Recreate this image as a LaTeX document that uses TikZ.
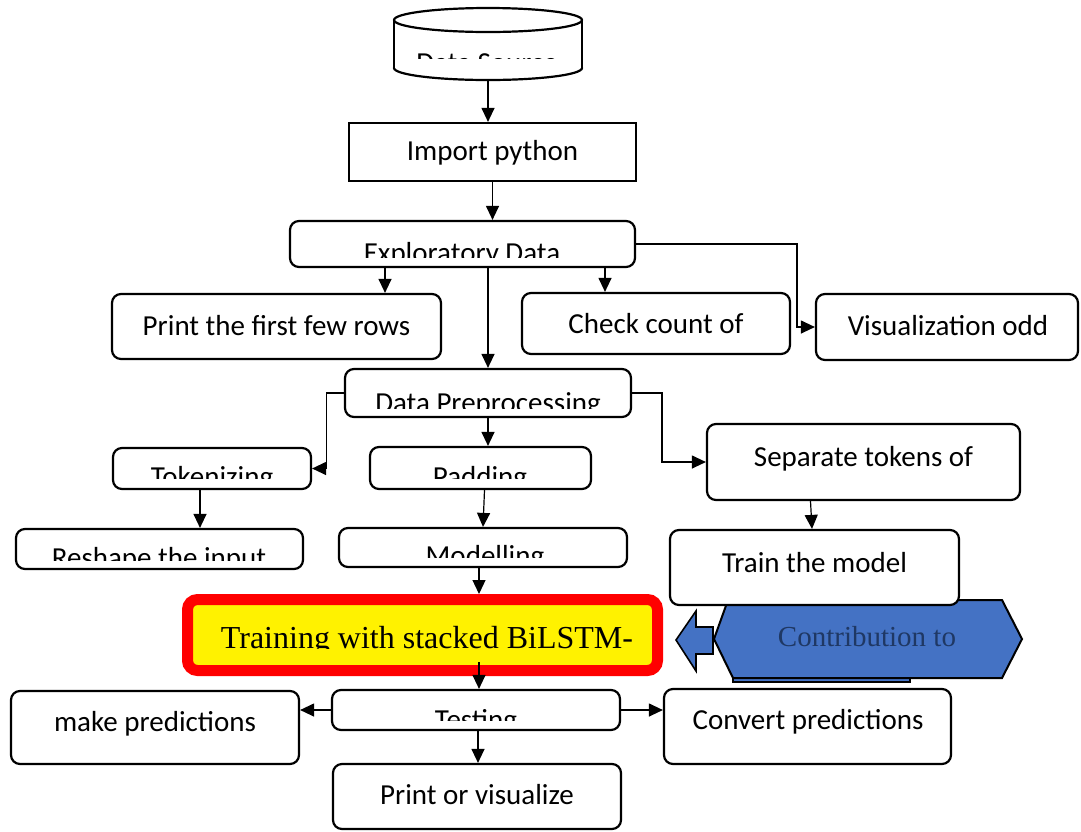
\documentclass[tikz,border=0pt]{standalone}
\usepackage{fontspec}
\setmainfont{Carlito}
\newfontfamily\timesf{Liberation Serif}
\usetikzlibrary{arrows.meta,calc}
\definecolor{hexblue}{HTML}{4472C4}
\definecolor{navy}{HTML}{1F3864}
\begin{document}
\begin{tikzpicture}[x=1pt,y=-1pt,
  box/.style={draw=black,line width=2.2pt,rounded corners=9pt,fill=white,inner sep=0pt},
  sqbox/.style={draw=black,line width=2.2pt,fill=white,inner sep=0pt},
  conn/.style={line width=1.2pt,-{Triangle[length=14pt,width=13pt]}},
  txt/.style={inner sep=0pt,anchor=base,font=\fontsize{29}{34}\selectfont},
  ttxt/.style={inner sep=0pt,anchor=base,font=\timesf\fontsize{32}{38}\selectfont}]
\useasboundingbox[fill=white] (0,0) rectangle (1081,831);

% ---- cylinder (Data Source)
\draw[line width=2.2pt,fill=white] (488,68) ellipse[x radius=94,y radius=12];
\fill[white] (394,20) rectangle (582,68);
\draw[line width=2.2pt] (394,20) -- (394,68) (582,20) -- (582,68);
\draw[line width=2.2pt,fill=white] (488,20) ellipse[x radius=94,y radius=12];
\node[inner sep=0pt,minimum width=188pt,minimum height=72pt] (src) at (488,44) {};
\begin{scope}\clip (394,30) rectangle (582,58);
\node[txt] (srcT) at (487,72) {Data Source};
\end{scope}

% ---- contribution shapes (behind)
\draw[line width=1.6pt,fill=hexblue] (733,670) rectangle (910,682);
\draw[line width=2pt,fill=hexblue] (728,600) -- (1002,600) -- (1022,639) -- (1002,678) -- (733,678) -- (714,639) -- cycle;
\node[inner sep=0pt,anchor=base,font=\timesf\fontsize{29}{34}\selectfont,text=navy] (conT) at (867,646) {Contribution to};
\draw[line width=1.6pt,fill=hexblue] (676,640) -- (696,611) -- (696,627) -- (713,627) -- (713,654) -- (696,654) -- (696,671) -- cycle;

% ---- boxes
\node[sqbox,minimum width=287pt,minimum height=58pt] (imp) at (492.5,152) {};
\node[txt] at (492.5,160) {Import python};

\node[box,minimum width=345pt,minimum height=46pt] (eda) at (462.5,244) {};
\begin{scope}\clip (289,220) rectangle (636,257);
\node[txt] (edaT) at (462,262) {Exploratory Data};
\end{scope}

\node[box,minimum width=329pt,minimum height=65pt] (prt) at (276.5,326.5) {};
\node[txt] at (276.5,335) {Print the first few rows};

\node[box,minimum width=268pt,minimum height=61pt] (chk) at (656,323.5) {};
\node[txt] at (656,333) {Check count of};

\node[box,minimum width=262pt,minimum height=66pt] (vis) at (947,327) {};
\node[txt] at (948,335) {Visualization odd};

\node[box,minimum width=286pt,minimum height=48pt] (dpp) at (488,393) {};
\begin{scope}\clip (344,368) rectangle (632,408);
\node[txt] (dppT) at (488,412) {Data Preprocessing};
\end{scope}

\node[box,minimum width=198pt,minimum height=41pt] (tok) at (212,468.5) {};
\begin{scope}\clip (112,447) rectangle (312,478);
\node[txt] (tokT) at (212,486) {Tokenizing};
\end{scope}

\node[box,minimum width=221pt,minimum height=42pt] (pad) at (480.5,468) {};
\begin{scope}\clip (369,446) rectangle (592,478);
\node[txt] (padT) at (480,486) {Padding};
\end{scope}

\node[box,minimum width=313pt,minimum height=76pt] (sep) at (863.5,462) {};
\node[txt] at (863.5,466) {Separate tokens of};

\node[box,minimum width=287pt,minimum height=40pt] (rsh) at (159.5,549) {};
\begin{scope}\clip (15,528) rectangle (304,560);
\node[txt] (rshT) at (159,567) {Reshape the input};
\end{scope}

\node[box,minimum width=288pt,minimum height=39pt] (mod) at (483,547.5) {};
\begin{scope}\clip (338,527) rectangle (628,557);
\node[txt] (modT) at (485,565) {Modelling};
\end{scope}

\node[box,minimum width=289pt,minimum height=75pt] (trn) at (814.5,567.5) {};
\node[txt] at (814.5,572) {Train the model};

\node[draw=red,line width=11pt,fill=yellow,rounded corners=10pt,inner sep=0pt,minimum width=470pt,minimum height=71pt,outer sep=5.5pt] (bil) at (422.5,635) {};
\begin{scope}\clip (193,605) rectangle (653,648);
\node[ttxt] (bilT) at (427,648) {Training with stacked BiLSTM-};
\end{scope}

\node[box,minimum width=288pt,minimum height=40pt] (tst) at (476,710) {};
\begin{scope}\clip (331,689) rectangle (621,720);
\node[txt] (tstT) at (476,729) {Testing};
\end{scope}

\node[box,minimum width=288pt,minimum height=73pt] (mkp) at (155,727.5) {};
\node[txt] at (155,731) {make predictions};

\node[box,minimum width=287pt,minimum height=75pt] (cnv) at (807.5,726.5) {};
\node[txt] at (808,729) {Convert predictions};

\node[box,minimum width=288pt,minimum height=65pt] (pov) at (477,796.5) {};
\node[txt] at (477,804) {Print or visualize};

% ---- connectors
\draw[conn] (src.south) -- (src.south |- imp.north);
\draw[conn] (imp.south) -- (imp.south |- eda.north);
\draw[conn] ([xshift=-77.5pt]eda.south) -- ([xshift=-77.5pt]eda.south |- prt.north);
\draw[conn] (dpp.north |- eda.south) -- (dpp.north);
\draw[conn] ([xshift=-51pt]chk.north |- eda.south) -- ([xshift=-51pt]chk.north);
\draw[conn] (eda.east) -| ([xshift=-18pt]vis.west) -- (vis.west);
\draw[conn] (dpp.west) -| ([xshift=14pt]tok.east) -- (tok.east);
\draw[conn] (dpp.south) -- (dpp.south |- pad.north);
\draw[conn] (dpp.east) -| ([xshift=-44pt]sep.west) -- (sep.west);
\draw[conn] ([xshift=-12pt]tok.south) -- ([xshift=-12pt]tok.south |- rsh.north);
\draw[conn] ([xshift=4pt]pad.south) -- (mod.north);
\draw[conn] ([xshift=-53pt]sep.south) -- ([xshift=-2.5pt]trn.north);
\draw[conn] ([xshift=-4pt]mod.south) -- ([xshift=-4pt]mod.south |- bil.north);
\draw[conn] ([xshift=56.5pt,yshift=14pt]bil.south) -- ([xshift=56.5pt]bil.south |- tst.north);
\draw[conn] (tst.west) -- (tst.west -| mkp.east);
\draw[conn] (tst.east) -- (tst.east -| cnv.west);
\draw[conn] ([xshift=2pt]tst.south) -- ([xshift=2pt]tst.south |- pov.north);
\end{tikzpicture}
\end{document}
